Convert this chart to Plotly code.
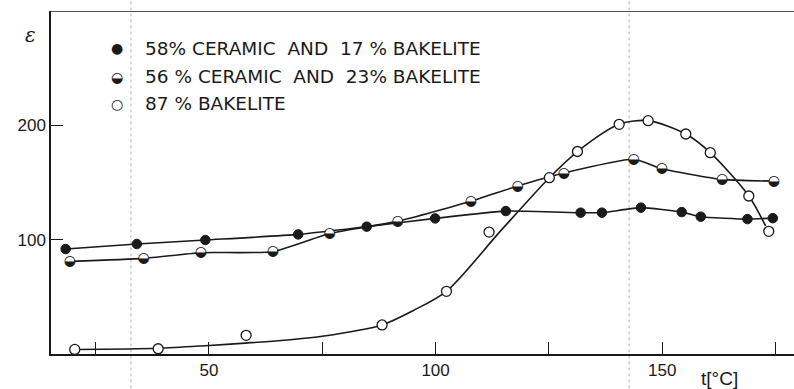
import plotly.graph_objects as go

# --- data ---
# 58 % ceramic and 17 % bakelite (filled circles)
t_a = [18.4, 34.1, 49.2, 69.7, 84.8, 99.9, 115.5, 132.0, 136.7, 145.3, 154.3, 158.5, 168.8, 174.4]
eps_a = [91.8, 96.2, 99.7, 104.6, 111.4, 118.6, 125.0, 123.6, 123.6, 128.0, 124.1, 120.1, 118.0, 118.8]

# 56 % ceramic and 23 % bakelite (half-filled circles)
t_b = [19.3, 35.6, 48.2, 64.1, 76.6, 91.6, 107.8, 118.1, 128.3, 143.7, 149.9, 163.2, 174.6]
eps_b = [81.0, 83.6, 88.6, 89.5, 105.4, 116.0, 133.6, 146.9, 158.3, 170.3, 162.1, 152.7, 151.2]

# 87 % bakelite (open circles) - measured points
t_c = [20.4, 38.8, 58.2, 88.2, 102.4, 111.8, 125.1, 131.3, 140.5, 146.9, 155.2, 160.6, 169.1, 173.5]
eps_c = [4.0, 4.6, 16.3, 25.4, 54.8, 106.6, 154.2, 177.1, 200.9, 204.1, 192.4, 176.1, 138.2, 107.3]
# 87 % bakelite - hand-drawn fitted curve
curve_t = [20.4, 38.8, 50.0, 58.0, 68.0, 75.0, 88.2, 95.1, 102.4, 114.2, 125.1, 131.3, 140.5, 146.9, 155.2, 160.6, 169.1, 172.8]
curve_eps = [4.0, 5.0, 7.5, 9.5, 12.5, 15.5, 25.4, 38.1, 54.8, 107.0, 154.2, 177.1, 200.9, 204.1, 192.4, 176.1, 138.2, 112.0]

x_ticks = [25, 50, 75, 100, 125, 150, 175]
x_ticktext = ["", "50", "", "100", "", "150", ""]
y_ticks = [100, 200]
y_ticktext = ["100", "200"]

legend_labels = [
    "58% CERAMIC  AND  17 % BAKELITE",
    "56 % CERAMIC  AND  23% BAKELITE",
    "87 % BAKELITE",
]
legend_glyphs = ["\u25CF", "\u25D2", "\u25CB"]

fold_lines = [32.8, 142.7]

FONT = "DejaVu Sans"
TICKFONT = "Liberation Sans"
BLACK = "#1a1a1a"

fig = go.Figure()

# curves
fig.add_trace(go.Scatter(x=t_a, y=eps_a, mode="lines",
                         line=dict(color=BLACK, width=1.6, shape="spline", smoothing=0.5),
                         hoverinfo="skip", showlegend=False))
fig.add_trace(go.Scatter(x=t_b, y=eps_b, mode="lines",
                         line=dict(color=BLACK, width=1.6, shape="spline", smoothing=0.5),
                         hoverinfo="skip", showlegend=False))
fig.add_trace(go.Scatter(x=curve_t, y=curve_eps, mode="lines",
                         line=dict(color=BLACK, width=1.6, shape="spline", smoothing=0.8),
                         hoverinfo="skip", showlegend=False))

# markers
fig.add_trace(go.Scatter(x=t_a, y=eps_a, mode="markers",
                         marker=dict(symbol="circle", size=9.5, color=BLACK,
                                     line=dict(color=BLACK, width=1)),
                         name=legend_labels[0], showlegend=False))
fig.add_trace(go.Scatter(x=t_b, y=eps_b, mode="markers",
                         marker=dict(symbol="circle", size=9, color="white",
                                     line=dict(color="white", width=0)),
                         hoverinfo="skip", showlegend=False))
fig.add_trace(go.Scatter(x=t_b, y=eps_b, mode="text", text=[legend_glyphs[1]] * len(t_b),
                         textposition="middle center",
                         textfont=dict(family="DejaVu Sans", size=14, color=BLACK),
                         name=legend_labels[1], showlegend=False))
fig.add_trace(go.Scatter(x=t_c, y=eps_c, mode="markers",
                         marker=dict(symbol="circle", size=10, color="white",
                                     line=dict(color=BLACK, width=1.3)),
                         name=legend_labels[2], showlegend=False))

# fold lines of the scanned page
for fx in fold_lines:
    fig.add_shape(type="line", xref="x", yref="paper", x0=fx, x1=fx, y0=-0.1, y1=1.05,
                  line=dict(color="#b0b0b0", width=1, dash="dot"), layer="below")

# top frame line
fig.add_shape(type="line", xref="paper", yref="y", x0=0, x1=1, y0=300, y1=300,
              line=dict(color=BLACK, width=1.5))

# legend drawn as text
leg_y = [0.891, 0.808, 0.729]
for g, lab, yy in zip(legend_glyphs, legend_labels, leg_y):
    fig.add_annotation(xref="paper", yref="paper", x=0.0888, y=yy, text=g, showarrow=False,
                       xanchor="center", yanchor="middle",
                       font=dict(family="DejaVu Sans", size=14, color=BLACK))
    fig.add_annotation(xref="paper", yref="paper", x=0.1238, y=yy, text=lab, showarrow=False,
                       xanchor="left", yanchor="middle",
                       font=dict(family=FONT, size=18.5, color=BLACK))

# axis labels
fig.add_annotation(xref="paper", yref="paper", x=-0.028, y=0.93, text="<i>ε</i>",
                   showarrow=False, xanchor="center", yanchor="middle",
                   font=dict(family="DejaVu Serif", size=20, color=BLACK))
fig.add_annotation(xref="paper", yref="paper", x=0.9, y=-0.07, text="t[°C]",
                   showarrow=False, xanchor="center", yanchor="middle",
                   font=dict(family=TICKFONT, size=19, color=BLACK))

fig.update_xaxes(range=[15.16, 179.07], showgrid=False, zeroline=False,
                 showline=True, linecolor=BLACK, linewidth=1.5,
                 ticks="inside", ticklen=12, tickwidth=1.3, tickcolor=BLACK,
                 tickvals=x_ticks, ticktext=x_ticktext,
                 tickfont=dict(family=TICKFONT, size=17, color=BLACK))
fig.update_yaxes(range=[0, 300], showgrid=False, zeroline=False,
                 showline=True, linecolor=BLACK, linewidth=1.5,
                 ticks="inside", ticklen=12, tickwidth=1.3, tickcolor=BLACK,
                 tickvals=y_ticks, ticktext=y_ticktext,
                 tickfont=dict(family=TICKFONT, size=17, color=BLACK))

fig.update_layout(width=794, height=389, margin=dict(l=51, r=0, t=11, b=35),
                  paper_bgcolor="white", plot_bgcolor="white", showlegend=False)

fig.write_html("out.html", config={"displayModeBar": False},
               post_script="document.body.style.margin='0';document.body.style.overflow='hidden';")
